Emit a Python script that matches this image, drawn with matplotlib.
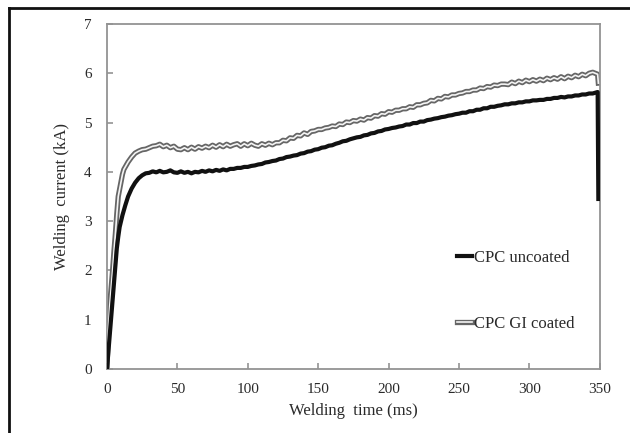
import numpy as np
import matplotlib
matplotlib.use("Agg")
import matplotlib.pyplot as plt
from matplotlib.lines import Line2D
from matplotlib.legend_handler import HandlerTuple

# ── Data ──────────────────────────────────────────────────────────────────────
# fine sampling during the initial ramp
ramp_t = [0, 1, 2, 3, 4, 5, 6, 7, 8, 9, 10, 11, 12, 13, 14, 15,
          17.5, 20, 22.5, 25, 27.5]
uncoated_ramp = [0.0, 0.35, 0.7, 1.05, 1.4, 1.75, 2.1, 2.45, 2.68, 2.88, 3.0,
                 3.12, 3.22, 3.32, 3.41, 3.5, 3.66, 3.78, 3.87, 3.93, 3.97]
coated_ramp = [0.0, 0.8, 1.3, 1.65, 2.0, 2.4, 2.75, 3.15, 3.5, 3.65, 3.8,
               3.95, 4.05, 4.1, 4.15, 4.2, 4.3, 4.38, 4.42, 4.45, 4.46]

# 2.5 ms sampling, 30 ms .. 347.5 ms
sample_t = list(np.arange(30, 348, 2.5))
uncoated_main = [
    3.98, 4.01, 3.99, 4.02, 3.99, 4.00, 4.03, 3.99, 3.98, 4.01,
    3.98, 4.00, 3.97, 4.00, 3.99, 4.02, 4.00, 4.03, 4.01, 4.04,
    4.02, 4.05, 4.03, 4.06, 4.06, 4.08, 4.08, 4.10, 4.10, 4.12,
    4.13, 4.15, 4.16, 4.19, 4.20, 4.22, 4.23, 4.26, 4.27, 4.30,
    4.31, 4.33, 4.34, 4.37, 4.38, 4.41, 4.42, 4.45, 4.46, 4.49,
    4.50, 4.53, 4.54, 4.57, 4.59, 4.62, 4.63, 4.66, 4.68, 4.70,
    4.71, 4.74, 4.75, 4.78, 4.79, 4.82, 4.83, 4.86, 4.87, 4.89,
    4.90, 4.92, 4.93, 4.96, 4.96, 4.99, 4.99, 5.02, 5.02, 5.05,
    5.06, 5.08, 5.09, 5.11, 5.12, 5.14, 5.15, 5.17, 5.18, 5.20,
    5.20, 5.23, 5.23, 5.26, 5.26, 5.29, 5.29, 5.32, 5.32, 5.34,
    5.35, 5.37, 5.37, 5.39, 5.39, 5.41, 5.41, 5.43, 5.43, 5.45,
    5.45, 5.46, 5.46, 5.48, 5.48, 5.50, 5.50, 5.52, 5.51, 5.53,
    5.53, 5.55, 5.55, 5.57, 5.57, 5.59, 5.59, 5.61,
]
coated_main = [
    4.49, 4.52, 4.53, 4.56, 4.51, 4.54, 4.49, 4.52, 4.46, 4.45,
    4.49, 4.45, 4.50, 4.46, 4.51, 4.48, 4.52, 4.49, 4.54, 4.50,
    4.55, 4.51, 4.56, 4.52, 4.55, 4.57, 4.52, 4.57, 4.53, 4.58,
    4.54, 4.52, 4.57, 4.54, 4.58, 4.55, 4.59, 4.59, 4.64, 4.63,
    4.69, 4.68, 4.74, 4.73, 4.79, 4.76, 4.82, 4.83, 4.86, 4.86,
    4.89, 4.90, 4.93, 4.92, 4.97, 4.96, 5.01, 5.00, 5.04, 5.03,
    5.07, 5.05, 5.10, 5.09, 5.14, 5.13, 5.18, 5.17, 5.22, 5.21,
    5.25, 5.25, 5.28, 5.28, 5.32, 5.31, 5.36, 5.36, 5.39, 5.40,
    5.45, 5.44, 5.49, 5.48, 5.53, 5.52, 5.56, 5.56, 5.59, 5.60,
    5.63, 5.63, 5.66, 5.66, 5.70, 5.69, 5.73, 5.72, 5.76, 5.75,
    5.78, 5.78, 5.77, 5.82, 5.79, 5.84, 5.81, 5.86, 5.83, 5.87,
    5.84, 5.88, 5.85, 5.90, 5.87, 5.91, 5.88, 5.93, 5.89, 5.94,
    5.91, 5.96, 5.93, 5.98, 5.95, 6.00, 6.02, 5.99,
]
# current switch-off at the end of the weld
end_t = [348.5, 349]
uncoated_end = [5.62, 3.45]
coated_end = [5.98, 5.8]

time_uncoated = ramp_t + sample_t + end_t
current_uncoated = uncoated_ramp + uncoated_main + uncoated_end
time_coated = ramp_t + sample_t + end_t
current_coated = coated_ramp + coated_main + coated_end

x_ticks = [0, 50, 100, 150, 200, 250, 300, 350]
y_ticks = [0, 1, 2, 3, 4, 5, 6, 7]

# ── Style ────────────────────────────────────────────────────────────────────
plt.rcParams["font.family"] = ["Liberation Serif", "DejaVu Serif"]
TEXT = "#2a2a2a"
SPINE = "#939393"
GREY_LINE = "#666666"
GREY_CORE = "#f4f4f4"

fig = plt.figure(figsize=(6.3, 4.33), dpi=100)
ax = fig.add_axes([0.1698, 0.1478, 0.7822, 0.7968])

ax.plot(time_coated, current_coated, color=GREY_LINE, linewidth=3.8,
        solid_joinstyle="round", zorder=2)
ax.plot(time_coated, current_coated, color=GREY_CORE, linewidth=1.2,
        solid_joinstyle="round", zorder=3)
ax.plot(time_uncoated, current_uncoated, color="#111111", linewidth=3.0,
        zorder=4)

ax.set_xlim(0, 350)
ax.set_ylim(0, 7)
ax.set_xticks(x_ticks)
ax.set_yticks(y_ticks)

for s in ax.spines.values():
    s.set_color(SPINE)
    s.set_linewidth(1.3)
ax.tick_params(direction="in", length=4, width=1.2, color=SPINE,
               labelsize=11, labelcolor=TEXT)
ax.tick_params(axis="x", pad=10)
ax.tick_params(axis="y", pad=11)

ax.set_xlabel("Welding  time (ms)", fontsize=12, color=TEXT)
ax.set_ylabel("Welding  current (kA)", fontsize=12, color=TEXT)
ax.xaxis.set_label_coords(0.5, -0.098)
ax.yaxis.set_label_coords(-0.075, 0.5)

# legend
h_unc = Line2D([], [], color="#111111", linewidth=3.0)
h_gray = Line2D([], [], color=GREY_LINE, linewidth=3.8)
h_white = Line2D([], [], color=GREY_CORE, linewidth=1.2)
leg = ax.legend([h_unc, (h_gray, h_white)], ["CPC uncoated", "CPC GI coated"],
                handler_map={tuple: HandlerTuple(ndivide=1)},
                loc="center left", bbox_to_anchor=(0.71, 0.2275),
                frameon=False, fontsize=12, handlelength=0.9,
                handletextpad=0.1, labelspacing=3.0, borderpad=0,
                borderaxespad=0)
for t in leg.get_texts():
    t.set_color(TEXT)

# outer frame of the original figure (top and left edges)
fig.add_artist(Line2D([9 / 630, 1.0], [1 - 8 / 433, 1 - 8 / 433],
                      transform=fig.transFigure, color="#111111", linewidth=2))
fig.add_artist(Line2D([9 / 630, 9 / 630], [0, 1 - 8 / 433],
                      transform=fig.transFigure, color="#111111", linewidth=2))

fig.savefig("out.png", dpi=100)
